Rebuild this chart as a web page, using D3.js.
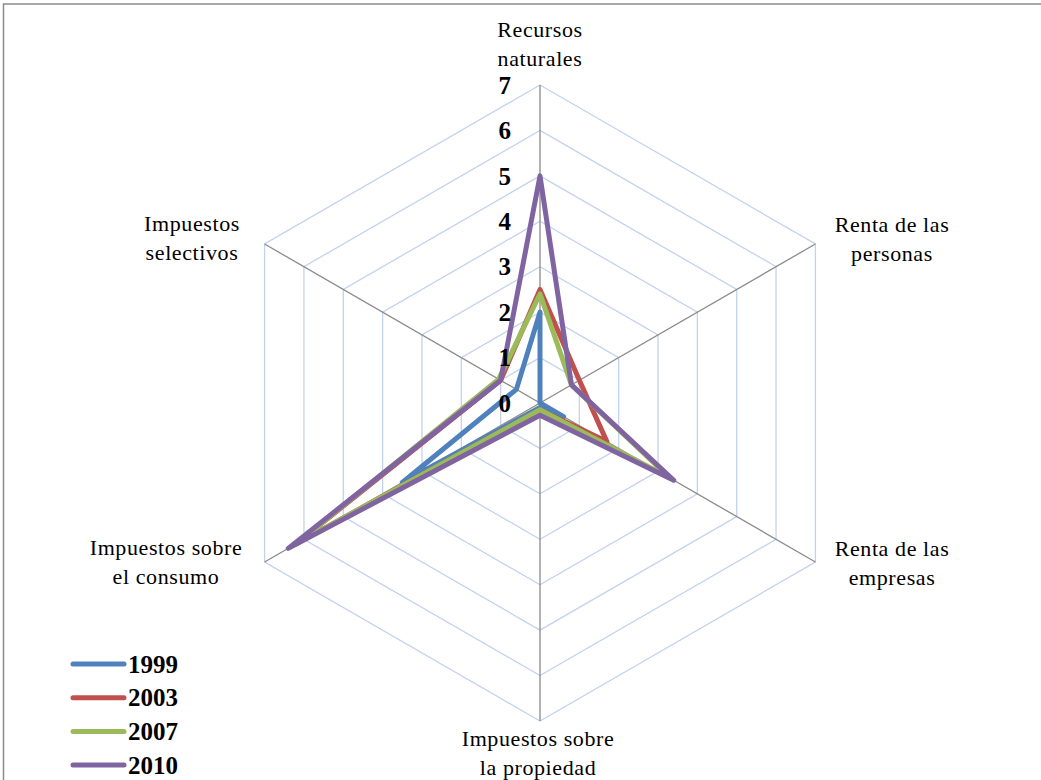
<!DOCTYPE html>
<html>
<head>
<meta charset="utf-8">
<script src="https://cdn.jsdelivr.net/npm/d3@7"></script>
<style>
  body { margin: 0; background: #fff; }
  svg { display: block; }
</style>
</head>
<body>
<div id="chart"></div>
<script>
// axis labels (two lines each), clockwise from the top
const categories = [
    ["Recursos", "naturales"],
    ["Renta de las", "personas"],
    ["Renta de las", "empresas"],
    ["Impuestos sobre", "la propiedad"],
    ["Impuestos sobre", "el consumo"],
    ["Impuestos", "selectivos"]
];
const years = ["1999", "2003", "2007", "2010"];
const v1999 = [2.0, 0.0, 0.6, 0.1, 3.5, 0.6];
const v2003 = [2.5, 1.0, 1.7, 0.15, 6.2, 1.0];
const v2007 = [2.4, 0.8, 3.3, 0.15, 6.2, 1.05];
const v2010 = [5.0, 0.8, 3.4, 0.27, 6.4, 1.0];
const ticks = [0, 1, 2, 3, 4, 5, 6, 7];

const seriesColors = ["#4F81BD", "#C0504D", "#9BBB59", "#8064A2"];
const allSeries = [v1999, v2003, v2007, v2010];

const W = 1041, H = 780;
const cx = 540, cy = 403, R = 318;
const serif = "'Liberation Serif', 'Times New Roman', Times, serif";

const svg = d3.select("#chart").append("svg")
    .attr("width", W)
    .attr("height", H)
    .attr("font-family", serif);

// outer chart frame (right / bottom edges fall outside the picture)
svg.append("rect")
    .attr("x", 3.5).attr("y", 4)
    .attr("width", 1100).attr("height", 1000)
    .attr("fill", "none")
    .attr("stroke", "#8c8c8c")
    .attr("stroke-width", 1.5);

const g = svg.append("g").attr("transform", `translate(${cx},${cy})`);

const rScale = d3.scaleLinear().domain([0, 7]).range([0, R]);
const aScale = d3.scaleLinear().domain([0, categories.length]).range([0, 2 * Math.PI]);

const pt = (i, v) => [Math.sin(aScale(i)) * rScale(v), -Math.cos(aScale(i)) * rScale(v)];

// hexagonal grid rings
const ringLine = d3.lineRadial()
    .angle((d, i) => aScale(i))
    .radius(d => rScale(d))
    .curve(d3.curveLinearClosed);

g.selectAll(".ring")
    .data(ticks.slice(1))
    .enter().append("path")
    .attr("class", "ring")
    .attr("d", t => ringLine(categories.map(() => t)))
    .attr("fill", "none")
    .attr("stroke", "#c3d3ee")
    .attr("stroke-width", 1.3);

// spokes
g.selectAll(".spoke")
    .data(categories)
    .enter().append("line")
    .attr("class", "spoke")
    .attr("x1", 0).attr("y1", 0)
    .attr("x2", (d, i) => pt(i, 7)[0])
    .attr("y2", (d, i) => pt(i, 7)[1])
    .attr("stroke", "#8a8a8a")
    .attr("stroke-width", 1.3);

// series
const seriesLine = d3.lineRadial()
    .angle((d, i) => aScale(i))
    .radius(d => rScale(d))
    .curve(d3.curveLinearClosed);

g.selectAll(".series")
    .data(allSeries)
    .enter().append("path")
    .attr("class", "series")
    .attr("d", d => seriesLine(d))
    .attr("fill", "none")
    .attr("stroke", (d, i) => seriesColors[i])
    .attr("stroke-width", 5)
    .attr("stroke-linejoin", "round")
    .attr("stroke-linecap", "round");

// tick labels along the top spoke
g.selectAll(".tick")
    .data(ticks)
    .enter().append("text")
    .attr("class", "tick")
    .attr("x", -29)
    .attr("y", d => -rScale(d))
    .attr("dy", "0.35em")
    .attr("text-anchor", "end")
    .attr("font-family", serif)
    .attr("font-size", 25)
    .attr("font-weight", "bold")
    .attr("fill", "#000")
    .text(d => d);

// category labels
const labelPos = [
    { x: 540, y: 37 },
    { x: 892, y: 232 },
    { x: 892, y: 556 },
    { x: 538, y: 746 },
    { x: 166, y: 555 },
    { x: 192, y: 231 }
];
categories.forEach((lines, i) => {
    const t = svg.append("text")
        .attr("text-anchor", "middle")
        .attr("font-family", serif)
        .attr("font-size", 22)
        .attr("letter-spacing", 0.6)
        .attr("fill", "#000");
    lines.forEach((s, j) => {
        t.append("tspan")
            .attr("x", labelPos[i].x)
            .attr("y", labelPos[i].y + j * 29)
            .text(s);
    });
});

// legend
const legend = svg.append("g").attr("transform", "translate(73,664)");
const rows = legend.selectAll("g")
    .data(years)
    .enter().append("g")
    .attr("transform", (d, i) => `translate(0,${i * 33.7})`);
rows.append("line")
    .attr("x1", 0).attr("x2", 51)
    .attr("stroke", (d, i) => seriesColors[i])
    .attr("stroke-width", 5)
    .attr("stroke-linecap", "round");
rows.append("text")
    .attr("x", 55)
    .attr("dy", "0.35em")
    .attr("font-family", serif)
    .attr("font-size", 25)
    .attr("font-weight", "bold")
    .attr("fill", "#000")
    .text(d => d);
</script>
</body>
</html>
